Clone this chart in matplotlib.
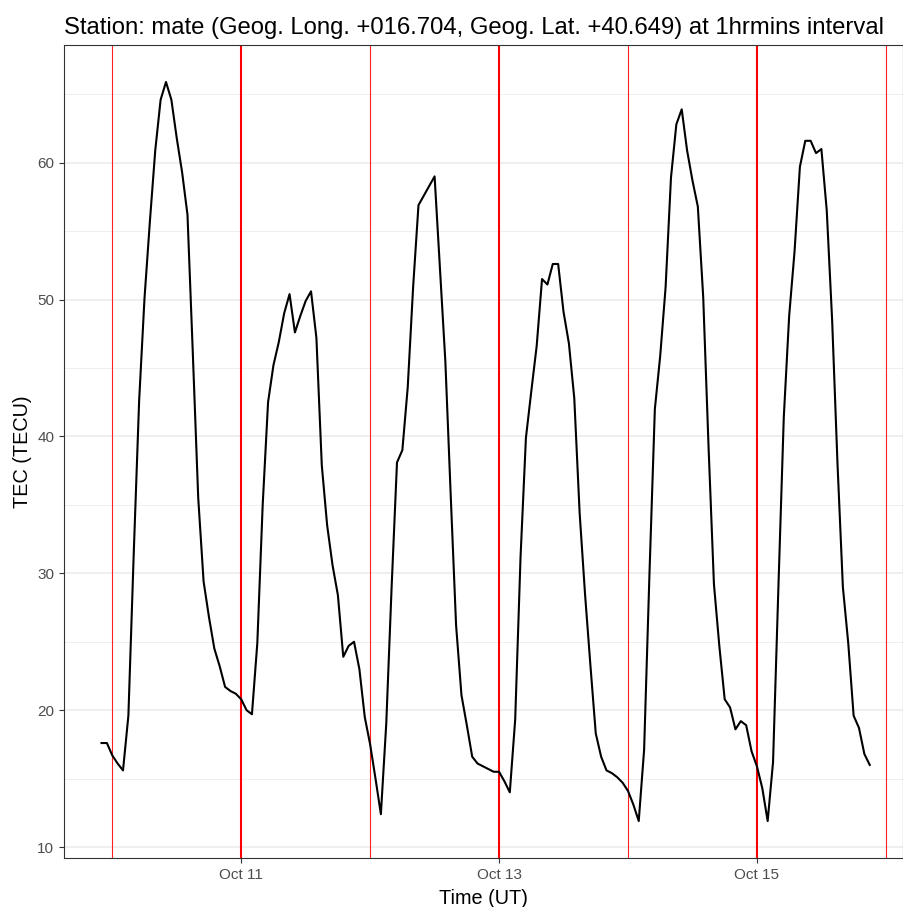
import numpy as np
import pandas as pd
import matplotlib
matplotlib.use("Agg")
import matplotlib.pyplot as plt
import matplotlib.dates as mdates

# hourly TEC values, starting Oct 09 22:00
start = "2021-10-09 22:00"
tec = [17.6, 17.6, 16.7, 16.1, 15.6, 19.6, 31.5, 42.6, 50.1, 55.7, 60.9, 64.6,
       65.9, 64.6, 61.8, 59.3, 56.2, 46.0, 35.5, 29.4, 26.8, 24.5, 23.2, 21.7,
       21.4, 21.2, 20.8, 20.0, 19.7, 24.9, 35.0, 42.5, 45.2, 46.9, 49.0, 50.4,
       47.6, 48.8, 49.9, 50.6, 47.2, 37.9, 33.5, 30.6, 28.4, 23.9, 24.7, 25.0,
       23.0, 19.5, 17.5, 15.0, 12.4, 19.0, 29.0, 38.1, 39.0, 43.6, 50.9, 56.9,
       57.6, 58.3, 59.0, 52.2, 45.5, 35.7, 26.2, 21.1, 18.9, 16.6, 16.1, 15.9,
       15.7, 15.5, 15.5, 14.8, 14.0, 19.3, 31.2, 39.9, 43.3, 46.6, 51.5, 51.1,
       52.6, 52.6, 49.1, 46.8, 42.8, 34.4, 28.5, 23.3, 18.3, 16.6, 15.6, 15.4,
       15.1, 14.7, 14.1, 13.1, 11.9, 17.1, 30.0, 42.0, 45.9, 50.9, 58.9, 62.8,
       63.9, 60.9, 58.7, 56.8, 50.2, 39.2, 29.2, 24.7, 20.8, 20.2, 18.6, 19.2,
       18.9, 17.0, 15.9, 14.3, 11.9, 16.2, 29.0, 41.4, 48.8, 53.5, 59.7, 61.6,
       61.6, 60.7, 61.0, 56.5, 48.5, 38.0, 29.0, 24.9, 19.6, 18.7, 16.8, 16.0]
times = pd.date_range(start, periods=len(tec), freq="h")

thin_days = pd.to_datetime(["2021-10-10", "2021-10-12", "2021-10-14", "2021-10-16"])
thick_days = pd.to_datetime(["2021-10-11", "2021-10-13", "2021-10-15"])

title = "Station: mate (Geog. Long. +016.704, Geog. Lat. +40.649) at 1hrmins interval"

plt.rcParams['font.family'] = ['Liberation Sans', 'DejaVu Sans']

fig = plt.figure(figsize=(9.04, 9.07), dpi=100)
ax = fig.add_axes([64/904, 1 - 858/907, (903 - 64)/904, (858 - 45)/907])
ax.set_axisbelow(True)

# gridlines
ax.set_yticks([10, 20, 30, 40, 50, 60])
ax.set_yticks([15, 25, 35, 45, 55, 65], minor=True)
ax.xaxis.set_major_locator(mdates.DayLocator(bymonthday=[11, 13, 15]))
ax.xaxis.set_major_formatter(mdates.DateFormatter("%b %d"))
ax.grid(True, which='major', color='#EBEBEB', lw=1.1)
ax.grid(True, which='minor', axis='y', color='#EBEBEB', lw=0.55)

for d in thin_days:
    ax.axvline(d, color='#FF2020', lw=0.8, zorder=2)
for d in thick_days:
    ax.axvline(d, color='red', lw=1.5, zorder=2)

ax.plot(times, tec, color='black', lw=1.5, zorder=3)

# ggplot-like 5% expansion
lo, hi = min(tec), max(tec)
pad = 0.05 * (hi - lo)
ax.set_ylim(lo - pad, hi + pad)
d0 = mdates.date2num(pd.Timestamp("2021-10-10"))
ax.set_xlim(d0 - 0.3744, d0 + 6.133)

for s in ax.spines.values():
    s.set_color('#333333')
    s.set_linewidth(0.8)
    s.set_zorder(4)
ax.tick_params(which='major', length=3.5, width=0.8, color='#333333',
               labelcolor='#4D4D4D', labelsize=11)
ax.tick_params(which='minor', length=0)

ax.set_title(title, loc='left', fontsize=17.2, pad=8)
ax.set_xlabel("Time (UT)", fontsize=14.3, labelpad=5)
ax.set_ylabel("TEC (TECU)", fontsize=14.3)

fig.savefig("out.png", dpi=100)
